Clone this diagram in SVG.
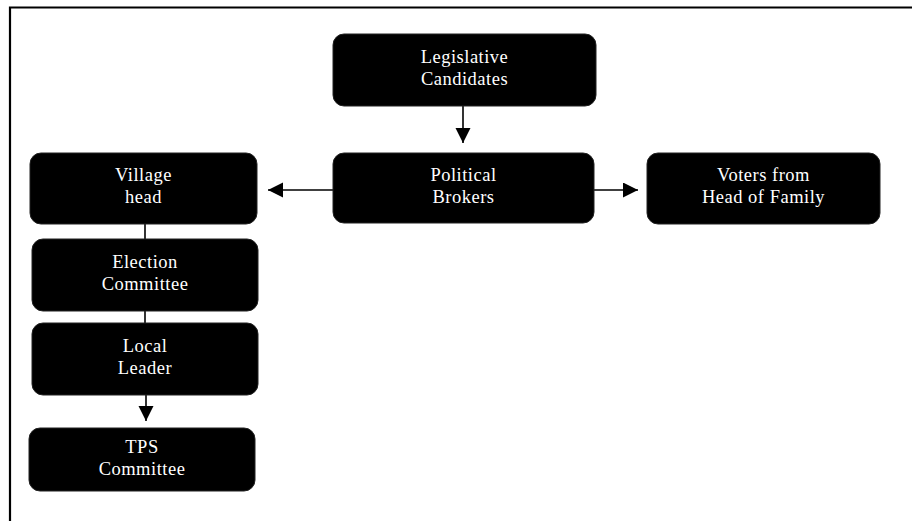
<svg xmlns="http://www.w3.org/2000/svg" width="912" height="521" viewBox="0 0 912 521">
<style>
.box{fill:#000;stroke:#222;stroke-width:1}
.lbl{fill:#fff;font-family:"Liberation Serif","Times New Roman",serif;font-size:18.5px;text-anchor:middle;letter-spacing:0.5px}
.ln{stroke:#000;stroke-width:1.6;fill:none}
.frame{stroke:#000;stroke-width:2.2;fill:none}
</style>
<defs>
<marker id="ah" markerWidth="16" markerHeight="16" refX="15" refY="7.5" orient="auto" markerUnits="userSpaceOnUse">
<path d="M0,0 L15,7.5 L0,15 Z" fill="#000"/>
</marker>
</defs>
<rect width="912" height="521" fill="#fff"/>
<path class="frame" d="M10,521 L10,7.5 L912,7.5"/>
<g id="connectors">
<line class="ln" x1="463" y1="106" x2="463" y2="143" marker-end="url(#ah)"/>
<line class="ln" x1="333" y1="190" x2="268" y2="190" marker-end="url(#ah)"/>
<line class="ln" x1="594" y1="190" x2="638" y2="190" marker-end="url(#ah)"/>
<line class="ln" x1="145" y1="224" x2="145" y2="239"/>
<line class="ln" x1="145" y1="311" x2="145" y2="323"/>
<line class="ln" x1="146" y1="395" x2="146" y2="421" marker-end="url(#ah)"/>
</g>
<g id="legislative">
<rect class="box" x="333" y="34" width="263" height="72" rx="11"/>
<text class="lbl" x="464.5" y="63">Legislative</text>
<text class="lbl" x="464.5" y="85">Candidates</text>
</g>
<g id="brokers">
<rect class="box" x="333" y="153" width="261" height="70" rx="11"/>
<text class="lbl" x="463.5" y="181">Political</text>
<text class="lbl" x="463.5" y="203">Brokers</text>
</g>
<g id="voters">
<rect class="box" x="647" y="153" width="233" height="71" rx="11"/>
<text class="lbl" x="763.5" y="181">Voters from</text>
<text class="lbl" x="763.5" y="203">Head of Family</text>
</g>
<g id="village">
<rect class="box" x="30" y="153" width="227" height="71" rx="11"/>
<text class="lbl" x="143.5" y="181">Village</text>
<text class="lbl" x="143.5" y="203">head</text>
</g>
<g id="election">
<rect class="box" x="32" y="239" width="226" height="72" rx="11"/>
<text class="lbl" x="145" y="268">Election</text>
<text class="lbl" x="145" y="290">Committee</text>
</g>
<g id="local">
<rect class="box" x="32" y="323" width="226" height="72" rx="11"/>
<text class="lbl" x="145" y="352">Local</text>
<text class="lbl" x="145" y="374">Leader</text>
</g>
<g id="tps">
<rect class="box" x="29" y="428" width="226" height="63" rx="11"/>
<text class="lbl" x="142" y="453">TPS</text>
<text class="lbl" x="142" y="475">Committee</text>
</g>
</svg>
